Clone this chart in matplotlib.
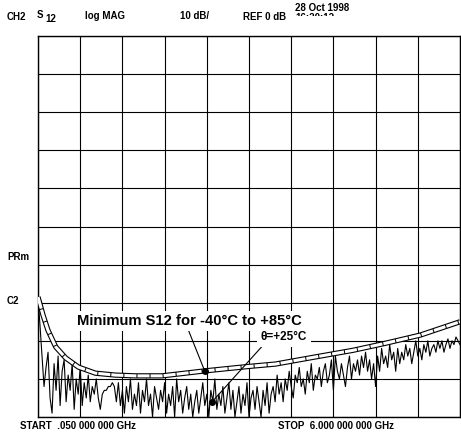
import matplotlib
matplotlib.use("Agg")
import matplotlib.pyplot as plt
import numpy as np

plt.rcParams['font.family'] = ['Liberation Sans', 'DejaVu Sans']

# spec limit curve (GHz, dB)
spec_f = [0.05, 0.12, 0.19, 0.30, 0.44, 0.62, 0.86, 1.14, 1.42, 1.80,
          2.40, 2.98, 3.40, 3.88, 4.49, 4.96, 5.44, 6.00]
spec_db = [-68.5, -73.2, -77.2, -81.6, -84.5, -86.9, -88.5, -89.0, -89.2, -89.2,
           -87.9, -86.8, -86.1, -84.5, -82.5, -80.6, -78.5, -75.0]

# measured S12 trace, 211 sweep points from .05 to 6 GHz
trace_db = [
    -68.5, -76, -84, -92, -87, -83, -95, -99, -86, -93,
    -84, -97, -88, -85, -96, -89, -93, -86, -98, -90,
    -94, -87, -97, -91, -95, -89, -96, -92, -94, -90,
    -95, -98, -94, -93, -93, -92, -92, -91, -92, -96,
    -91, -97, -93, -99, -92, -96, -90, -98, -94, -97,
    -91, -99, -93, -96, -90, -97, -94, -100, -92, -95,
    -98, -93, -96, -91, -99, -94, -97, -92, -100, -90,
    -96, -93, -99, -95, -92, -98, -94, -100, -96, -93,
    -99, -95, -91, -97, -94, -100, -93, -96, -90, -98,
    -94, -97, -92, -99, -95, -91, -98, -93, -100, -96,
    -92, -99, -94, -97, -91, -100, -95, -93, -98, -92,
    -96, -100, -93, -97, -91, -99, -94, -92, -96, -89,
    -94, -91, -96, -90, -93, -88, -92, -95, -89, -91,
    -87, -92, -90, -94, -88, -91, -86, -93, -89, -90,
    -87, -92, -88, -86, -91, -89, -85, -93, -84, -88,
    -90, -86, -89, -92, -87, -84, -90, -86, -88, -85,
    -89, -84, -87, -83, -88, -85, -90, -86, -92, -84,
    -88, -82, -86, -84, -87, -81, -85, -83, -88, -82,
    -86, -83, -85, -81, -84, -82, -86, -83, -80, -84,
    -82, -85, -81, -83, -80, -84, -82, -81, -83, -80,
    -82, -80, -83, -81, -79.5, -82, -80, -81, -79, -80, -81,
]
trace_f = np.linspace(0.05, 6.0, len(trace_db))

# marker dots
dot_f = [2.40, 2.50]
dot_db = [-87.9, -96.1]

fig = plt.figure(figsize=(4.61, 4.32), dpi=100)
ax = fig.add_axes([38 / 461, 15 / 432, 422 / 461, 381 / 432])
ax.set_xlim(0.05, 6.0)
ax.set_ylim(-100, 0)
ax.set_xticks(np.linspace(0.05, 6.0, 11))
ax.set_yticks(np.arange(-100, 1, 10))
ax.tick_params(length=0, labelbottom=False, labelleft=False)
ax.grid(True, color='black', lw=0.8)
for s in ax.spines.values():
    s.set_linewidth(1.0)

ax.plot(trace_f, trace_db, color='black', lw=0.8, zorder=3)

ax.plot(spec_f, spec_db, color='black', lw=3.8, solid_capstyle='butt', zorder=4)
ax.plot(spec_f, spec_db, color='white', lw=2.2, dashes=(3.95, 0.33),
        dash_capstyle='butt', zorder=5)
ax.plot(dot_f, dot_db, 'o', color='black', ms=4, zorder=6)

ax.annotate("Minimum S12 for -40°C to +85°C", xy=(dot_f[0], dot_db[0]),
            xytext=(2.19, -74.8), ha='center', va='center',
            fontsize=10.6, fontweight='bold', zorder=7,
            bbox=dict(boxstyle='square,pad=0.2', fc='white', ec='none'),
            arrowprops=dict(arrowstyle='-', lw=0.8, color='black',
                            shrinkA=0, shrinkB=0, relpos=(0.49, 0)))
ax.annotate("θ=+25°C", xy=(dot_f[1], dot_db[1]),
            xytext=(3.52, -79.0), ha='center', va='center',
            fontsize=8.5, fontweight='bold', zorder=7,
            bbox=dict(boxstyle='square,pad=0.3', fc='white', ec='none'),
            arrowprops=dict(arrowstyle='-', lw=0.8, color='black',
                            shrinkA=0, shrinkB=0, relpos=(0.09, 0)))

kw = dict(fontsize=7, fontweight='bold', va='center')
W, H = 461, 432
fig.text(7 / W, 1 - 17 / H, "CH2", **kw)
fig.text(37 / W, 1 - 15 / H, "S", **kw)
fig.text(45 / W, 1 - 19 / H, "12", **kw)
fig.text(85 / W, 1 - 16 / H, "log MAG", **kw)
fig.text(180 / W, 1 - 16 / H, "10 dB/", **kw)
fig.text(243 / W, 1 - 17 / H, "REF 0 dB", **kw)
fig.text(295 / W, 1 - 8 / H, "28 Oct 1998", **kw)
fig.text(295 / W, 1 - 18 / H, "16:20:12", **kw)
# hide lower part of the clipped time line
fig.patches.append(plt.Rectangle((290 / W, 1 - 28 / H), 60 / W, 12 / H,
                                 transform=fig.transFigure, fc='white',
                                 ec='none', zorder=10))
fig.text(7 / W, 1 - 257 / H, "PRm", **kw)
fig.text(7 / W, 1 - 301 / H, "C2", **kw)
fig.text(20 / W, 1 - 426 / H, "START  .050 000 000 GHz", **kw)
fig.text(278 / W, 1 - 426 / H, "STOP  6.000 000 000 GHz", **kw)

fig.savefig("out.png", dpi=100)
